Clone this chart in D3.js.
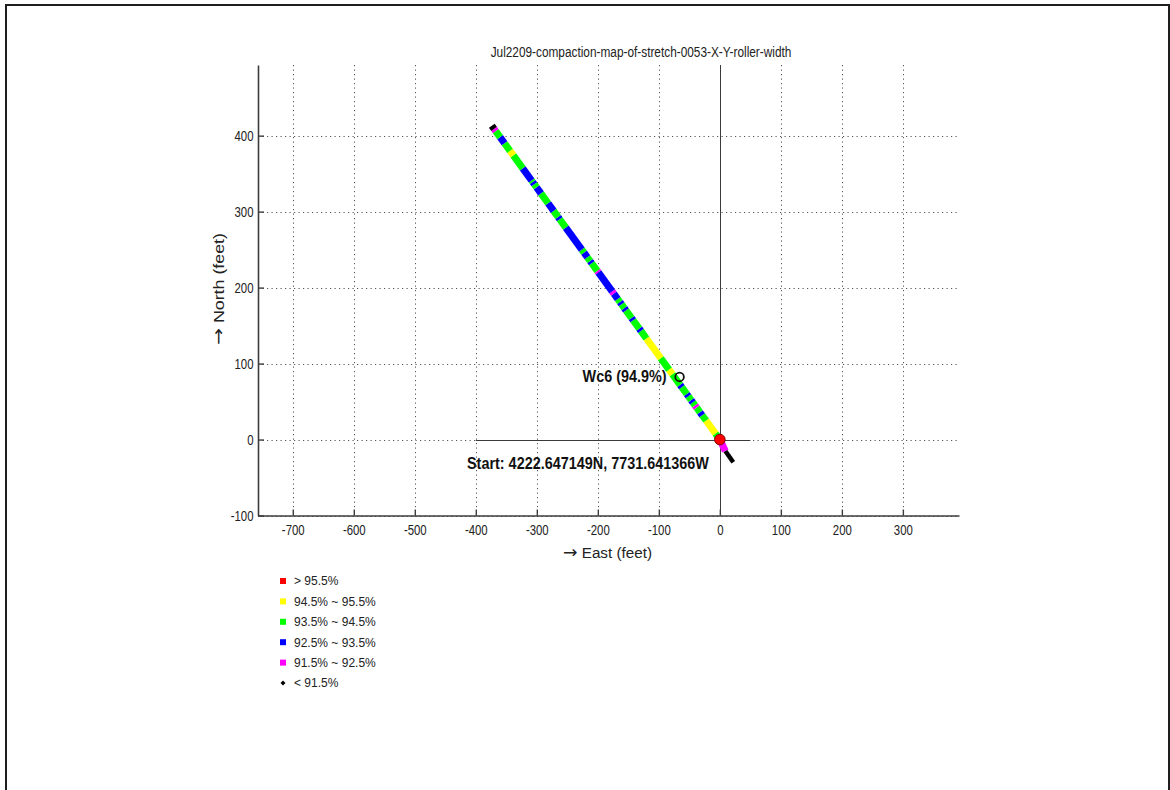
<!DOCTYPE html>
<html>
<head>
<meta charset="utf-8">
<script src="https://cdn.jsdelivr.net/npm/d3@7"></script>
<style>
  html, body { margin: 0; padding: 0; background: #fff; }
  svg { display: block; }
  text { font-family: "Liberation Sans", Arial, Helvetica, sans-serif; }
</style>
</head>
<body>
<svg id="chart" width="1170" height="790"></svg>
<script>
// ---------------- data ----------------
const chartTitle = "Jul2209-compaction-map-of-stretch-0053-X-Y-roller-width";
const xLabel = "East (feet)";
const yLabel = "North (feet)";
const axisArrow = "\u2192";
const xTicks = [-700, -600, -500, -400, -300, -200, -100, 0, 100, 200, 300];
const yTicks = [-100, 0, 100, 200, 300, 400];

// roller track (feet east / feet north) and compaction (%) of the stretch that starts at each point
const trackEast  = [22, 9, 0, -7.2, -22.6, -29.0, -32.6, -38.0, -40.7, -44.3, -47.1, -51.6, -54.3, -62.4, -65.2, -77.8, -83.3, -96.8, -120.4, -129.4, -132.1, -142.1, -144.8, -153.9, -156.6, -161.1, -163.8, -167.4, -173.8, -176.5, -199.1, -200.9, -210.0, -212.7, -217.2, -222.6, -226.3, -252.5, -262.5, -265.2, -272.4, -281.5, -293.2, -300.5, -304.1, -306.8, -308.6, -323.1, -338.5, -343.9, -353.0, -360.2, -367.4, -370.1, -373.8];
const trackNorth = [-30, -15, 0, 8, 25, 32, 36, 42, 45, 49, 52, 57, 60, 69, 72, 86, 92, 107, 133, 143, 146, 157, 160, 170, 173, 178, 181, 185, 192, 195, 220, 222, 232, 235, 240, 246, 250, 279, 290, 293, 301, 311, 324, 332, 336, 339, 341, 357, 374, 380, 390, 398, 406, 409, 413];
const trackPct   = [91.0, 92.0, 94.0, 95.0, 94.0, 93.0, 94.0, 92.0, 94.0, 93.0, 94.0, 93.0, 94.0, 93.0, 94.0, 95.0, 94.0, 95.0, 94.0, 93.0, 94.0, 93.0, 94.0, 93.0, 94.0, 93.0, 94.0, 93.0, 92.0, 93.0, 92.0, 94.0, 93.0, 94.0, 93.0, 94.0, 93.0, 94.0, 93.0, 94.0, 93.0, 94.0, 93.0, 94.0, 93.0, 94.0, 93.0, 94.0, 95.0, 94.0, 93.0, 94.0, 92.0, 91.0, 91.0];

// reference cross at the start point
const crossEast = [-400, 50];
const crossNorth = [-100, 493];

// start point
const startEast = [0];
const startNorth = [0];
const startLabel = ["Start: 4222.647149N, 7731.641366W"];

// core sample
const coreEast = [-66];
const coreNorth = [82.4];
const coreLabel = ["Wc6 (94.9%)"];

// legend
const legendLabels = ["> 95.5%", "94.5% ~ 95.5%", "93.5% ~ 94.5%", "92.5% ~ 93.5%", "91.5% ~ 92.5%", "< 91.5%"];
const legendColors = ["#ff0000", "#ffff00", "#00ff00", "#0000ff", "#ff00ff", "#000000"];
const thresholds = [91.5, 92.5, 93.5, 94.5, 95.5];

// ---------------- drawing ----------------
const svg = d3.select("#chart");
const x = d3.scaleLinear().domain([-757, 392]).range([258, 959]);
const y = d3.scaleLinear().domain([-100, 493]).range([515.5, 65]);
const color = d3.scaleThreshold().domain(thresholds).range(legendColors.slice().reverse());

// page frame
svg.append("rect").attr("x", 6).attr("y", 5).attr("width", 1163).attr("height", 800)
  .attr("fill", "none").attr("stroke", "#1e1e1e").attr("stroke-width", 2);

// grid
const grid = svg.append("g").attr("stroke", "#555").attr("stroke-width", 1).attr("stroke-dasharray", "1.2,3.3");
grid.selectAll("line.gx").data(xTicks).join("line")
  .attr("x1", d => Math.round(x(d)) + 0.5).attr("x2", d => Math.round(x(d)) + 0.5)
  .attr("y1", y.range()[1]).attr("y2", y.range()[0]);
grid.selectAll("line.gy").data(yTicks).join("line")
  .attr("y1", d => Math.round(y(d)) + 0.5).attr("y2", d => Math.round(y(d)) + 0.5)
  .attr("x1", x.range()[0]).attr("x2", x.range()[1]);

// cross lines
svg.append("line").attr("x1", x(crossEast[0])).attr("x2", x(crossEast[1]))
  .attr("y1", Math.round(y(0)) + 0.5).attr("y2", Math.round(y(0)) + 0.5)
  .attr("stroke", "#3a3a3a").attr("stroke-width", 1);
svg.append("line").attr("y1", y(crossNorth[0])).attr("y2", y(crossNorth[1]))
  .attr("x1", Math.round(x(0)) + 0.5).attr("x2", Math.round(x(0)) + 0.5)
  .attr("stroke", "#3a3a3a").attr("stroke-width", 1);

// axes
function styleAxis(g, sx) {
  g.select(".domain").attr("stroke", "#3c3c3c").attr("stroke-width", 1.6);
  g.selectAll(".tick line").attr("stroke", "#3c3c3c").attr("stroke-width", 1.4);
  g.selectAll(".tick text").each(function () {
    const t = d3.select(this);
    const tx = +t.attr("x") || 0, ty = +t.attr("y") || 0;
    t.attr("x", 0).attr("y", 0)
     .attr("transform", `translate(${tx},${ty}) scale(${sx},1)`)
     .attr("fill", "#222").style("font-size", "15px");
  });
}
const fmt = d => String(d);
const gx = svg.append("g").attr("transform", `translate(0,${y.range()[0]})`)
  .call(d3.axisBottom(x).tickValues(xTicks).tickFormat(fmt).tickSizeInner(-6).tickSizeOuter(0).tickPadding(8.5));
styleAxis(gx, 0.76);
const gy = svg.append("g").attr("transform", `translate(${x.range()[0]},0)`)
  .call(d3.axisLeft(y).tickValues(yTicks).tickFormat(fmt).tickSizeInner(-6).tickSizeOuter(0).tickPadding(4.5));
styleAxis(gy, 0.76);

// fit helper: scale text horizontally to a given width
function fitText(sel, width) {
  const L = sel.node().getComputedTextLength();
  const cur = sel.attr("transform") || "";
  sel.attr("transform", cur + ` scale(${width / L},1)`);
}
function arrowLabel(t, label) {
  t.append("tspan").style("font-family", "'DejaVu Sans', sans-serif").style("font-size", "17px").text(axisArrow);
  t.append("tspan").text(" " + label);
}

// title & labels
const title = svg.append("text").attr("transform", "translate(641,57)")
  .attr("text-anchor", "middle").style("font-size", "15.5px").attr("fill", "#222").text(chartTitle);
fitText(title, 301);
const xl = svg.append("text").attr("transform", "translate(607.5,558)")
  .attr("text-anchor", "middle").style("font-size", "15px").attr("fill", "#222");
arrowLabel(xl, xLabel);
fitText(xl, 89);
const yl = svg.append("text").attr("transform", "translate(224,289) rotate(-90)")
  .attr("text-anchor", "middle").style("font-size", "15px").attr("fill", "#222");
arrowLabel(yl, yLabel);
fitText(yl, 112);

// track
const segs = d3.range(trackEast.length - 1);
svg.append("g").selectAll("line").data(segs).join("line")
  .attr("x1", i => x(trackEast[i])).attr("y1", i => y(trackNorth[i]))
  .attr("x2", i => x(trackEast[i + 1])).attr("y2", i => y(trackNorth[i + 1]))
  .attr("stroke", i => color(trackPct[i]))
  .attr("stroke-width", i => (i === 0 ? 4.5 : 7)).attr("stroke-linecap", "butt");

// start point
svg.append("g").selectAll("circle").data(startEast).join("circle")
  .attr("cx", (d, i) => x(d)).attr("cy", (d, i) => y(startNorth[i])).attr("r", 5.3)
  .attr("fill", "#ff0000").attr("stroke", "#7a0000").attr("stroke-width", 1);
startEast.forEach((d, i) => {
  const t = svg.append("text")
    .attr("transform", `translate(${x(d) - 11},${y(startNorth[i]) + 29})`)
    .attr("text-anchor", "end").style("font-size", "17px").style("font-weight", "bold")
    .attr("fill", "#111").text(startLabel[i]);
  fitText(t, 242);
});

// core sample
svg.append("g").selectAll("circle").data(coreEast).join("circle")
  .attr("cx", (d, i) => x(d)).attr("cy", (d, i) => y(coreNorth[i])).attr("r", 4.3)
  .attr("fill", "none").attr("stroke", "#111").attr("stroke-width", 1.8);
coreEast.forEach((d, i) => {
  const t = svg.append("text")
    .attr("transform", `translate(${x(d) - 13},${y(coreNorth[i]) + 5})`)
    .attr("text-anchor", "end").style("font-size", "17px").style("font-weight", "bold")
    .attr("fill", "#111").text(coreLabel[i]);
  fitText(t, 84);
});

// legend
const lg = svg.append("g").attr("transform", "translate(283,581)");
const rows = lg.selectAll("g").data(legendLabels).join("g")
  .attr("transform", (d, i) => `translate(0,${i * 20.4})`);
rows.each(function (d, i) {
  const r = d3.select(this);
  if (i < legendLabels.length - 1) {
    r.append("rect").attr("x", -3).attr("y", -3).attr("width", 6).attr("height", 6)
      .attr("fill", legendColors[i]);
  } else {
    r.append("path").attr("d", "M0,-2.5L2.5,0L0,2.5L-2.5,0Z").attr("fill", legendColors[i]);
  }
  r.append("text").attr("x", 11).attr("y", 4.3).style("font-size", "12px")
    .attr("fill", "#222").text(d);
});
</script>
</body>
</html>
